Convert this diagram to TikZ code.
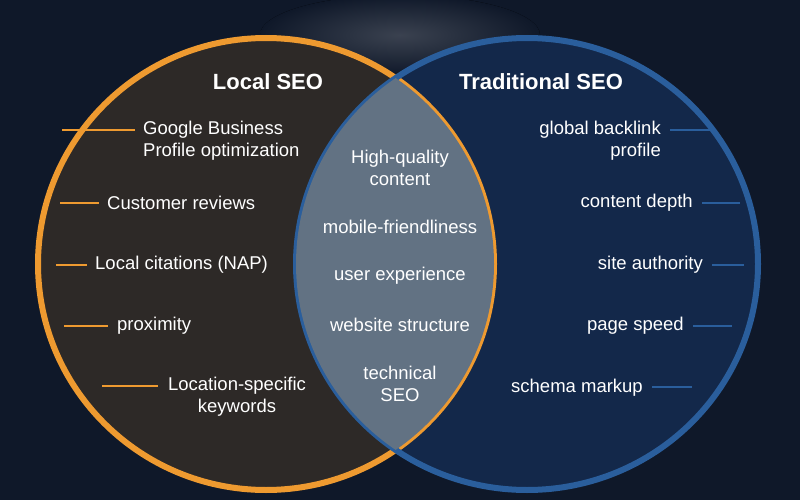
\documentclass[tikz,border=0pt]{standalone}
\usepackage{fontspec}
\setmainfont{Liberation Sans}
\begin{document}
\begin{tikzpicture}[x=1pt,y=-1pt,
  txt/.style={text=white,font=\fontsize{18.5}{22}\selectfont,inner sep=0pt},
  ttl/.style={text=white,font=\bfseries\fontsize{22}{24}\selectfont,inner sep=0pt},
  ltick/.style={draw=orng,line width=1.6pt},
  rtick/.style={draw=blueR,line width=1.6pt}]
\definecolor{bg}{HTML}{0F1829}
\definecolor{orng}{HTML}{EE9A30}
\definecolor{blueR}{HTML}{2A5E9C}
\definecolor{lfill}{HTML}{2D2927}
\definecolor{rfill}{HTML}{13284A}
\definecolor{lens}{HTML}{627283}
\useasboundingbox (0,0) rectangle (800,500);
\fill[bg] (0,0) rectangle (800,500);
\fill[inner color=white!18!bg,outer color=bg] (400,35) ellipse (140 and 40);
\fill[rfill] (527,264) ellipse (231 and 226);
\fill[lfill] (266,264) ellipse (228 and 226);
\draw[orng,line width=6pt] (266,264) ellipse (228 and 226);
\draw[blueR,line width=6pt] (527,264) ellipse (231 and 226);
\begin{scope}
\clip (266,264) ellipse (228 and 226);
\fill[lens] (527,264) ellipse (231 and 226);
\end{scope}
% titles
\node[ttl] (tl) at (268,82) {Local SEO};
\node[ttl] (tr) at (541,82) {Traditional SEO};
% left
\node[txt,anchor=west,align=left] (l1) at (143,141) {Google Business\\Profile optimization};
\node[txt,anchor=west] (l2) at (107,203) {Customer reviews};
\node[txt,anchor=west] (l3) at (95,265) {Local citations (NAP)};
\node[txt,anchor=west] (l4) at (117,326) {proximity};
\node[txt,align=center] (l5) at (237,397) {Location-specific\\keywords};
\coordinate (c1) at (62,130); \coordinate (c2) at (60,203); \coordinate (c3) at (56,265);
\coordinate (c4) at (64,326); \coordinate (c5) at (102,386);
\draw[ltick] (c1) -- ([xshift=-8pt]l1.west |- c1);
\draw[ltick] (c2) -- ([xshift=-8pt]l2.west);
\draw[ltick] (c3) -- ([xshift=-8pt]l3.west);
\draw[ltick] (c4) -- ([xshift=-9pt]l4.west);
\draw[ltick] (c5) -- ([xshift=-10pt]l5.west |- c5);
% center
\node[txt,align=center] (m1) at (400,168) {High-quality\\content};
\node[txt] (m2) at (400,227) {mobile-friendliness};
\node[txt] (m3) at (400,276) {user experience};
\node[txt] (m4) at (400,325) {website structure};
\node[txt,align=center] (m5) at (400,384) {technical\\SEO};
% right
\node[txt,anchor=east,align=right] (r1) at (661,141) {global backlink\\profile};
\node[txt,anchor=east] (r2) at (693,203) {content depth};
\node[txt,anchor=east] (r3) at (703,265) {site authority};
\node[txt,anchor=east] (r4) at (684,326) {page speed};
\node[txt,anchor=east] (r5) at (643,388) {schema markup};
\coordinate (d1) at (710,130); \coordinate (d2) at (740,203); \coordinate (d3) at (744,265);
\coordinate (d4) at (732,326); \coordinate (d5) at (692,387);
\draw[rtick] ([xshift=9pt]r1.east |- d1) -- (d1);
\draw[rtick] ([xshift=9pt]r2.east) -- (d2);
\draw[rtick] ([xshift=9pt]r3.east) -- (d3);
\draw[rtick] ([xshift=9pt]r4.east) -- (d4);
\draw[rtick] ([xshift=9pt]r5.east |- d5) -- (d5);
\end{tikzpicture}
\end{document}
